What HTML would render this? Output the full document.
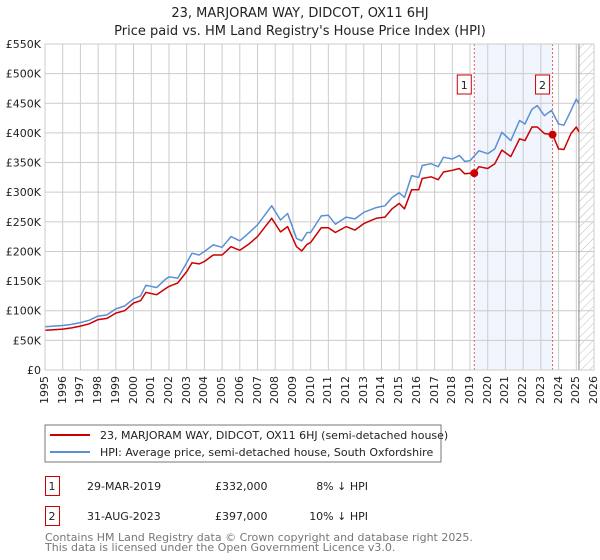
<!DOCTYPE html>
<html><head><meta charset="utf-8"><style>
body{margin:0;background:#fff;font-family:"DejaVu Sans","Liberation Sans",sans-serif;}
#wrap{position:relative;width:600px;height:560px;}
svg{display:block}
svg text{font-family:"DejaVu Sans","Liberation Sans",sans-serif;}
.xl{position:absolute;top:376px;font-size:11px;line-height:12px;color:#222;writing-mode:vertical-rl;transform:rotate(180deg);white-space:nowrap;}
</style></head><body>
<div id="wrap">
<svg id="c" width="600" height="560">
<text x="300" y="17" text-anchor="middle" font-size="13" fill="#222">23, MARJORAM WAY, DIDCOT, OX11 6HJ</text>
<text x="300" y="35" text-anchor="middle" font-size="13" fill="#222">Price paid vs. HM Land Registry's House Price Index (HPI)</text>
<defs><pattern id="hatch" width="6" height="6" patternUnits="userSpaceOnUse" patternTransform="rotate(45)"><line x1="0" y1="0" x2="0" y2="6" stroke="#bbb" stroke-width="1"/></pattern></defs>
<g id="plot"></g>
<rect x="45" y="425" width="396" height="37" fill="#fff" stroke="#777"/>
<line x1="50" y1="435" x2="90" y2="435" stroke="#cc0000" stroke-width="2"/>
<text x="100" y="439" font-size="11" fill="#222">23, MARJORAM WAY, DIDCOT, OX11 6HJ (semi-detached house)</text>
<line x1="50" y1="452" x2="90" y2="452" stroke="#5b8fd4" stroke-width="2"/>
<text x="100" y="456" font-size="11" fill="#222">HPI: Average price, semi-detached house, South Oxfordshire</text>
<g font-size="11" fill="#222">
<rect x="45.5" y="476.5" width="14" height="19" fill="none" stroke="#cc0000"/>
<text x="52" y="490" text-anchor="middle">1</text>
<text x="87" y="490">29-MAR-2019</text>
<text x="215" y="490">£332,000</text>
<text x="368" y="490" text-anchor="end">8% ↓ HPI</text>
<rect x="45.5" y="506.5" width="14" height="19" fill="none" stroke="#cc0000"/>
<text x="52" y="520" text-anchor="middle">2</text>
<text x="87" y="520">31-AUG-2023</text>
<text x="215" y="520">£397,000</text>
<text x="368" y="520" text-anchor="end">10% ↓ HPI</text>
</g>
<text x="45" y="541" font-size="11" fill="#777">Contains HM Land Registry data © Crown copyright and database right 2025.</text>
<text x="45" y="551" font-size="11" fill="#777">This data is licensed under the Open Government Licence v3.0.</text>
</svg>
</div>
<script>
const years=[1995,1996,1997,1998,1999,2000,2001,2002,2003,2004,2005,2006,2007,2008,2009,2010,2011,2012,2013,2014,2015,2016,2017,2018,2019,2020,2021,2022,2023,2024,2025,2026];
const yTicks=[0,50,100,150,200,250,300,350,400,450,500,550];
const hpiT=[1995,1995.5,1996,1996.5,1997,1997.5,1998,1998.5,1999,1999.5,2000,2000.4,2000.7,2001.3,2001.8,2002,2002.5,2003,2003.3,2003.7,2004,2004.5,2005,2005.5,2006,2006.5,2007,2007.8,2008.3,2008.7,2009.2,2009.5,2009.8,2010,2010.6,2011,2011.4,2012,2012.5,2013,2013.7,2014.2,2014.6,2015,2015.3,2015.7,2016.1,2016.3,2016.8,2017.2,2017.5,2018,2018.4,2018.7,2019,2019.5,2020,2020.4,2020.8,2021.3,2021.8,2022.1,2022.5,2022.8,2023.2,2023.6,2024,2024.3,2024.7,2025,2025.15];
const hpiV=[73,74,75,77,80,84,91,93,103,108,120,125,143,139,153,157,155,181,197,194,200,211,207,225,218,231,245,277,253,264,222,218,232,232,260,261,246,258,255,266,274,277,291,299,291,328,325,345,348,343,359,356,362,352,353,370,365,373,401,387,421,415,440,446,429,438,415,413,438,457,450];
const priceT=[1995,1995.5,1996,1996.5,1997,1997.5,1998,1998.5,1999,1999.5,2000,2000.4,2000.7,2001.3,2001.8,2002,2002.5,2003,2003.3,2003.7,2004,2004.5,2005,2005.5,2006,2006.5,2007,2007.8,2008.3,2008.7,2009.2,2009.5,2009.8,2010,2010.6,2011,2011.4,2012,2012.5,2013,2013.7,2014.2,2014.6,2015,2015.3,2015.7,2016.1,2016.3,2016.8,2017.2,2017.5,2018,2018.4,2018.7,2019,2019.24,2019.5,2020,2020.4,2020.8,2021.3,2021.8,2022.1,2022.5,2022.8,2023.2,2023.66,2024,2024.3,2024.7,2025,2025.15];
const priceV=[67,68,69,71,74,78,85,87,96,100,113,117,131,127,137,141,147,166,181,179,183,194,194,208,202,212,225,256,233,242,208,201,212,215,240,240,232,242,236,247,256,258,272,281,272,304,304,323,326,321,334,337,340,331,332,332,343,340,348,371,360,390,387,410,410,399,397,373,372,399,410,402];
const saleT=[2019.24,2023.66];
const saleV=[332,397];
const saleLabels=["1","2"];
const X0=45,X1=594,Y0=370,Y1=44;
const sx=t=>X0+(t-1995)/(2026-1995)*(X1-X0);
const sy=v=>Y0-v/550*(Y0-Y1);
const NS="http://www.w3.org/2000/svg";
const g=document.getElementById('plot');
const wrapDiv=document.getElementById('wrap');
function mk(tag,attrs,parent){const e=document.createElementNS(NS,tag);for(const k in attrs)e.setAttribute(k,attrs[k]);(parent||g).appendChild(e);return e;}
let sh=mk('rect',{x:sx(saleT[0]),y:Y1,width:sx(saleT[1])-sx(saleT[0]),height:Y0-Y1,fill:'#eef3fd',opacity:0.8});


let ht=mk('rect',{x:sx(2025.15),y:Y1,width:X1-sx(2025.15),height:Y0-Y1,fill:'url(#hatch)'});


years.forEach(y=>{
  let l=mk('line',{x1:sx(y),x2:sx(y),y1:Y1,y2:Y0,stroke:'#ccc','stroke-width':1});
  
  
  let d=document.createElement('div');
  d.className='xl';
  d.style.left=(sx(y)-6)+'px';
  d.textContent=y;
  
  
  wrapDiv.appendChild(d);
});
yTicks.forEach(v=>{
  let l=mk('line',{x1:X0,x2:X1,y1:sy(v),y2:sy(v),stroke:'#ccc','stroke-width':1});
  
  
  let t=mk('text',{x:41,y:sy(v)+4,'font-size':11,fill:'#222','text-anchor':'end'});
  t.textContent=v===0?'£0':'£'+v+'K';
  
  
});
let nl=mk('line',{x1:sx(2025.15),x2:sx(2025.15),y1:Y1,y2:Y0,stroke:'#888','stroke-width':1});


saleT.forEach((t,i)=>{
  let l=mk('line',{x1:sx(t),x2:sx(t),y1:Y1,y2:Y0,stroke:'#e06060','stroke-width':1,'stroke-dasharray':'2,2'});
  
  
});
function line(T,V,color,name){
  let d=T.map((t,i)=>(i?'L':'M')+sx(t).toFixed(1)+','+sy(V[i]).toFixed(1)).join('');
  let p=mk('path',{d,fill:'none',stroke:color,'stroke-width':1.5,'stroke-linejoin':'round'});
  
  
}
line(hpiT,hpiV,'#5b8fd4','hpi-line');
line(priceT,priceV,'#cc0000','price-line');
saleT.forEach((t,i)=>{
  let c=mk('circle',{cx:sx(t),cy:sy(saleV[i]),r:4,fill:'#cc0000'});
  
  
  let bx=sx(t)-17;
  let r=mk('rect',{x:bx,y:75,width:14,height:19,fill:'#fff',stroke:'#cc0000'});
  
  
  let tx=mk('text',{x:bx+7,y:89,'font-size':11,fill:'#222','text-anchor':'middle'});
  tx.textContent=saleLabels[i];
  
  
});
let fr=mk('rect',{x:X0,y:Y1,width:X1-X0,height:Y0-Y1,fill:'none',stroke:'#ccc'});


</script>
</body></html>
